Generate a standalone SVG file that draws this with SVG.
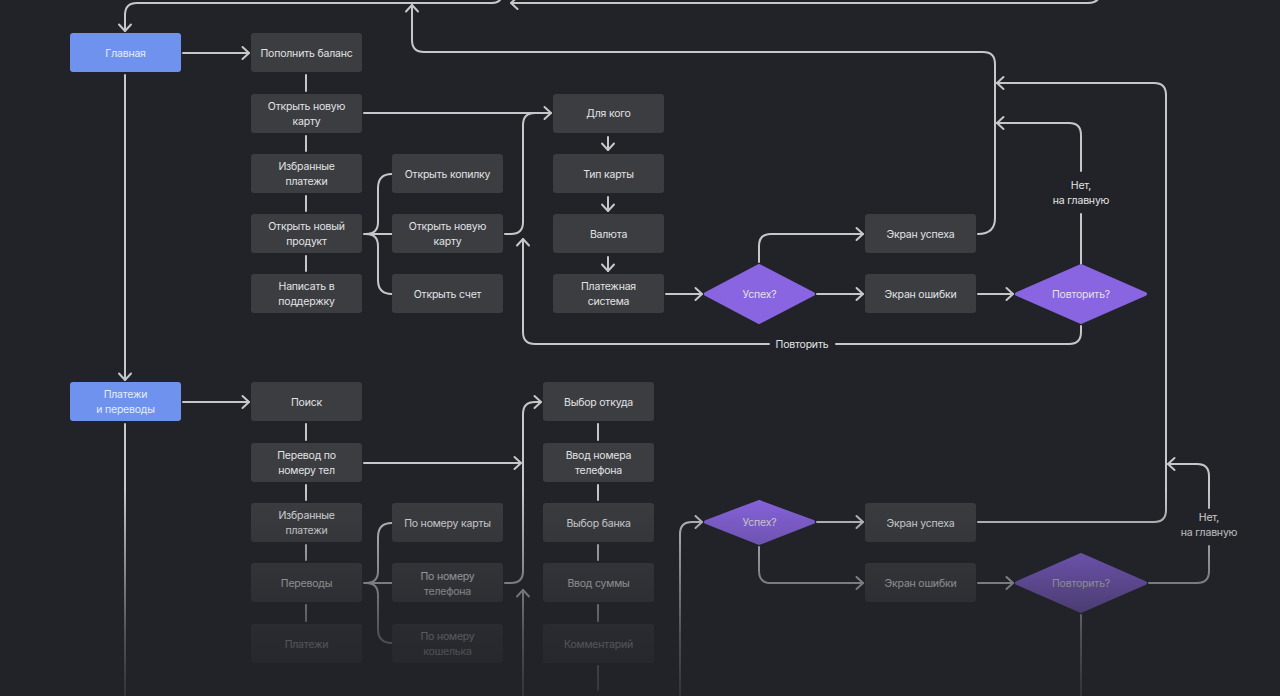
<svg xmlns="http://www.w3.org/2000/svg" width="1280" height="696" viewBox="0 0 1280 696">
<defs>
<style>
.bg{fill:#222328}
.n{fill:#3b3d41}
.b{fill:#6e92ed}
.d{fill:#8a65e2;stroke:#8a65e2;stroke-width:4;stroke-linejoin:round}
.t{font-family:Inter,"Noto Sans",sans-serif;font-size:10.5px;letter-spacing:-0.2px;fill:#e2e3e5;text-anchor:middle;dominant-baseline:central}
.tb{fill:#e6ecfb}
.c{fill:none;stroke:#c6c7c9;stroke-width:2;stroke-linecap:round;stroke-linejoin:round}
.a{marker-end:url(#arr)}
</style>
<marker id="arr" markerUnits="userSpaceOnUse" markerWidth="16" markerHeight="16" refX="8" refY="8" orient="auto" viewBox="0 0 16 16">
<path d="M1.5,2 L8,8 L1.5,14" fill="none" stroke="#c6c7c9" stroke-width="2" stroke-linecap="round" stroke-linejoin="round"/>
</marker>
<linearGradient id="fade" x1="0" y1="0" x2="0" y2="1" gradientUnits="objectBoundingBox">
<stop offset="0" stop-color="#222328" stop-opacity="0"/>
<stop offset="0.35" stop-color="#222328" stop-opacity="0.35"/>
<stop offset="0.7" stop-color="#222328" stop-opacity="0.72"/>
<stop offset="1" stop-color="#222328" stop-opacity="0.9"/>
</linearGradient>
</defs>
<rect class="bg" x="0" y="0" width="1280" height="696"/>

<g id="connectors">
<path class="c a" d="M502,-12 L502,-7 Q502,3 492,3 L137,3 Q125,3 125,15 L125,31"/>
<path class="c a" d="M1100,-12 L1100,-8 Q1100,3 1088,3 L511,3"/>
<path class="c a" d="M978,234 Q995,234 995,218 L995,64 Q995,52 983,52 L424,52 Q412,52 412,40 L412,5"/>
<path class="c" d="M1081,264 L1081,214"/>
<path class="c a" d="M1081,171 L1081,135 Q1081,123 1069,123 L997,123"/>
<path class="c a" d="M978,522 L1154,522 Q1166,522 1166,510 L1166,95 Q1166,83 1154,83 L997,83"/>
<path class="c" d="M1149,583 L1197,583 Q1209,583 1209,571 L1209,546"/>
<path class="c a" d="M1209,508 L1209,476 Q1209,464 1197,464 L1168,464"/>
<path class="c a" d="M183,53 L249,53"/>
<path class="c a" d="M125,75 L125,380"/>
<path class="c" d="M125,424 L125,696"/>
<path class="c a" d="M183,402 L249,402"/>
<path class="c" d="M306,75 L306,91 M306,136 L306,151 M306,196 L306,211 M306,256 L306,271"/>
<path class="c" d="M306,424 L306,440 M306,485 L306,500 M306,545 L306,560 M306,605 L306,621"/>
<path class="c" d="M598,424 L598,440 M598,485 L598,500 M598,545 L598,560 M598,605 L598,621 M598,666 L598,690"/>
<path class="c" d="M364,234 L392,234 M392,174 Q378,174 378,188 L378,222 Q378,234 366,234 M392,294 Q378,294 378,280 L378,246 Q378,234 366,234"/>
<path class="c" d="M364,583 L392,583 M392,523 Q378,523 378,537 L378,571 Q378,583 366,583 M392,643 Q378,643 378,629 L378,595 Q378,583 366,583"/>
<path class="c a" d="M364,113 L551,113"/>
<path class="c" d="M505,234 L511,234 Q523,234 523,222 L523,125 Q523,113 535,113"/>
<path class="c" d="M1081,326 L1081,332 Q1081,344 1069,344 L836,344"/>
<path class="c a" d="M769,344 L535,344 Q523,344 523,332 L523,239"/>
<path class="c a" d="M608,137 L608,150"/>
<path class="c a" d="M608,197 L608,211"/>
<path class="c a" d="M608,257 L608,271"/>
<path class="c a" d="M666,294 L702,294"/>
<path class="c a" d="M759,262 L759,246 Q759,234 771,234 L863,234"/>
<path class="c a" d="M817,294 L863,294"/>
<path class="c a" d="M978,294 L1013,294"/>
<path class="c a" d="M364,463 L521,463"/>
<path class="c a" d="M505,583 L511,583 Q523,583 523,571 L523,414 Q523,402 535,402 L541,402"/>
<path class="c a" d="M523,696 L523,590"/>
<path class="c a" d="M680,696 L680,534 Q680,522 692,522 L702,522"/>
<path class="c a" d="M817,522 L863,522"/>
<path class="c a" d="M759,547 L759,571 Q759,583 771,583 L863,583"/>
<path class="c a" d="M978,583 L1013,583"/>
<path class="c" d="M1081,615 L1081,696"/>
</g>

<g id="labels">
<text class="t" x="1081" y="185">Нет,</text>
<text class="t" x="1081" y="200">на главную</text>
<text class="t" x="802" y="344">Повторить</text>
<text class="t" x="1209" y="517">Нет,</text>
<text class="t" x="1209" y="532">на главную</text>
</g>

<g id="n-glavnaya"><rect class="b" x="70" y="33" width="111" height="39" rx="3"/><text class="t tb" x="125.5" y="53">Главная</text></g>
<g id="n-popolnit"><rect class="n" x="251" y="33" width="111" height="39" rx="3"/><text class="t" x="306.5" y="53">Пополнить баланс</text></g>
<g id="n-otkryt-kartu"><rect class="n" x="251" y="94" width="111" height="39" rx="3"/><text class="t" x="306.5" y="106">Открыть новую</text><text class="t" x="306.5" y="121">карту</text></g>
<g id="n-izbrannye"><rect class="n" x="251" y="154" width="111" height="39" rx="3"/><text class="t" x="306.5" y="166">Избранные</text><text class="t" x="306.5" y="181">платежи</text></g>
<g id="n-produkt"><rect class="n" x="251" y="214" width="111" height="39" rx="3"/><text class="t" x="306.5" y="226">Открыть новый</text><text class="t" x="306.5" y="241">продукт</text></g>
<g id="n-podderzhka"><rect class="n" x="251" y="274" width="111" height="39" rx="3"/><text class="t" x="306.5" y="286">Написать в</text><text class="t" x="306.5" y="301">поддержку</text></g>
<g id="n-kopilka"><rect class="n" x="392" y="154" width="111" height="39" rx="3"/><text class="t" x="447.5" y="174">Открыть копилку</text></g>
<g id="n-kartu2"><rect class="n" x="392" y="214" width="111" height="39" rx="3"/><text class="t" x="447.5" y="226">Открыть новую</text><text class="t" x="447.5" y="241">карту</text></g>
<g id="n-schet"><rect class="n" x="392" y="274" width="111" height="39" rx="3"/><text class="t" x="447.5" y="294">Открыть счет</text></g>
<g id="n-dlya-kogo"><rect class="n" x="553" y="94" width="111" height="39" rx="3"/><text class="t" x="608.5" y="113">Для кого</text></g>
<g id="n-tip"><rect class="n" x="553" y="154" width="111" height="39" rx="3"/><text class="t" x="608.5" y="174">Тип карты</text></g>
<g id="n-valyuta"><rect class="n" x="553" y="214" width="111" height="39" rx="3"/><text class="t" x="608.5" y="234">Валюта</text></g>
<g id="n-plat-sistema"><rect class="n" x="553" y="274" width="111" height="39" rx="3"/><text class="t" x="608.5" y="286">Платежная</text><text class="t" x="608.5" y="301">система</text></g>
<g id="n-uspeh1"><polygon class="d" points="759,266 813,294 759,322 706,294"/><text class="t" x="759.5" y="294">Успех?</text></g>
<g id="n-ekran-uspeha1"><rect class="n" x="865" y="214" width="111" height="39" rx="3"/><text class="t" x="920.5" y="234">Экран успеха</text></g>
<g id="n-ekran-oshibki1"><rect class="n" x="865" y="274" width="111" height="39" rx="3"/><text class="t" x="920.5" y="294">Экран ошибки</text></g>
<g id="n-povtorit1"><polygon class="d" points="1081,266 1145,294 1081,322 1017,294"/><text class="t" x="1081" y="294">Повторить?</text></g>

<g id="n-platezhi-perevody"><rect class="b" x="70" y="382" width="111" height="39" rx="3"/><text class="t tb" x="125.5" y="394">Платежи</text><text class="t tb" x="125.5" y="409">и переводы</text></g>
<g id="n-poisk"><rect class="n" x="251" y="382" width="111" height="39" rx="3"/><text class="t" x="306.5" y="402">Поиск</text></g>
<g id="n-perevod-tel"><rect class="n" x="251" y="443" width="111" height="39" rx="3"/><text class="t" x="306.5" y="455">Перевод по</text><text class="t" x="306.5" y="470">номеру тел</text></g>
<g id="n-izbrannye2"><rect class="n" x="251" y="503" width="111" height="39" rx="3"/><text class="t" x="306.5" y="515">Избранные</text><text class="t" x="306.5" y="530">платежи</text></g>
<g id="n-perevody"><rect class="n" x="251" y="563" width="111" height="39" rx="3"/><text class="t" x="306.5" y="583">Переводы</text></g>
<g id="n-platezhi"><rect class="n" x="251" y="624" width="111" height="39" rx="3"/><text class="t" x="306.5" y="644">Платежи</text></g>
<g id="n-po-karte"><rect class="n" x="392" y="503" width="111" height="39" rx="3"/><text class="t" x="447.5" y="523">По номеру карты</text></g>
<g id="n-po-telefonu"><rect class="n" x="392" y="563" width="111" height="39" rx="3"/><text class="t" x="447.5" y="576">По номеру</text><text class="t" x="447.5" y="591">телефона</text></g>
<g id="n-po-koshelku"><rect class="n" x="392" y="624" width="111" height="39" rx="3"/><text class="t" x="447.5" y="636">По номеру</text><text class="t" x="447.5" y="651">кошелька</text></g>
<g id="n-vybor-otkuda"><rect class="n" x="543" y="382" width="111" height="39" rx="3"/><text class="t" x="598.5" y="402">Выбор откуда</text></g>
<g id="n-vvod-nomera"><rect class="n" x="543" y="443" width="111" height="39" rx="3"/><text class="t" x="598.5" y="455">Ввод номера</text><text class="t" x="598.5" y="470">телефона</text></g>
<g id="n-vybor-banka"><rect class="n" x="543" y="503" width="111" height="39" rx="3"/><text class="t" x="598.5" y="523">Выбор банка</text></g>
<g id="n-vvod-summy"><rect class="n" x="543" y="563" width="111" height="39" rx="3"/><text class="t" x="598.5" y="583">Ввод суммы</text></g>
<g id="n-kommentariy"><rect class="n" x="543" y="624" width="111" height="39" rx="3"/><text class="t" x="598.5" y="644">Комментарий</text></g>
<g id="n-uspeh2"><polygon class="d" points="759,502 813,522 759,543 706,522"/><text class="t" x="759.5" y="522">Успех?</text></g>
<g id="n-ekran-uspeha2"><rect class="n" x="865" y="503" width="111" height="39" rx="3"/><text class="t" x="920.5" y="523">Экран успеха</text></g>
<g id="n-ekran-oshibki2"><rect class="n" x="865" y="563" width="111" height="39" rx="3"/><text class="t" x="920.5" y="583">Экран ошибки</text></g>
<g id="n-povtorit2"><polygon class="d" points="1081,555 1145,583 1081,611 1017,583"/><text class="t" x="1081" y="583">Повторить?</text></g>

<rect x="0" y="490" width="1280" height="206" fill="url(#fade)"/>
</svg>
